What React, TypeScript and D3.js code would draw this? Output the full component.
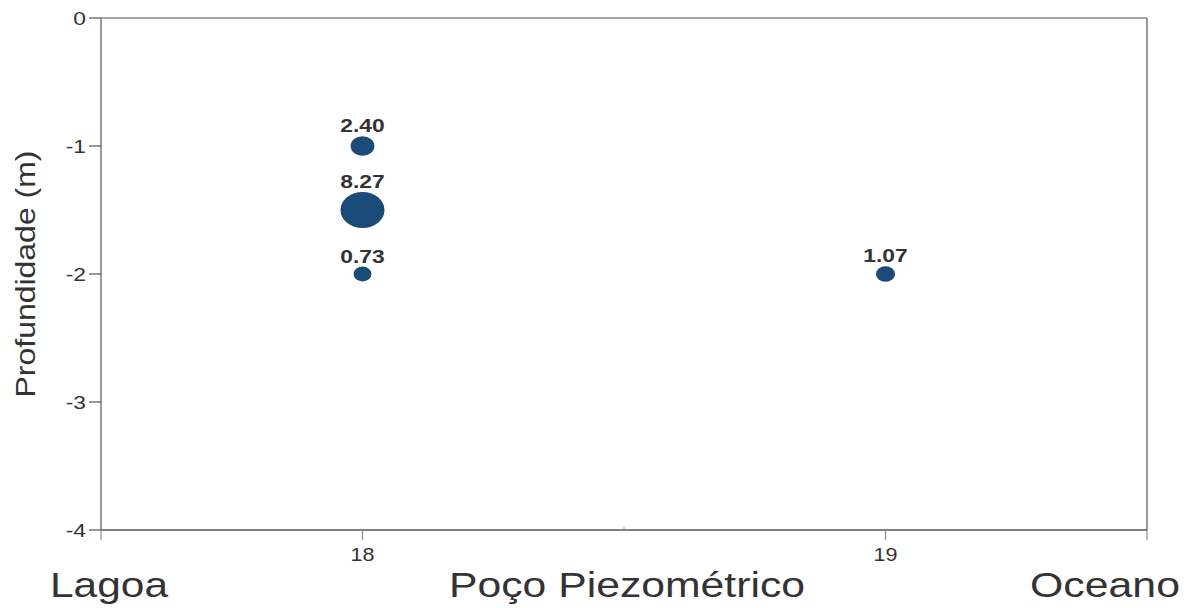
import React from "react";
import * as d3 from "d3";

const wells = [18, 18, 18, 19];
const depths = [-1, -1.5, -2, -2];
const values = [2.40, 8.27, 0.73, 1.07];
const valueLabels = ["2.40", "8.27", "0.73", "1.07"];
const yTicks = [0, -1, -2, -3, -4];
const xTicks = [18, 19];
const bottomLabels = ["Lagoa", "Poço Piezométrico", "Oceano"];

const W = 1187, H = 608;
const left = 101, right = 1147, top = 18, bottom = 530;
const SX = 1.2;

function SText({ x, y, anchor, size, weight, children }: any) {
  return (
    <g transform={`translate(${x},${y}) scale(${SX},1)`}>
      <text textAnchor={anchor} fontSize={size} fontWeight={weight || "normal"} fill="#333">{children}</text>
    </g>
  );
}

export default function App() {
  const x = d3.scaleLinear().domain([17.5, 19.5]).range([left, right]);
  const y = d3.scaleLinear().domain([0, -4]).range([top, bottom]);
  const rx = d3.scaleLinear().domain([0.73, 8.27]).range([9, 22]);
  const ryRatio = 0.82;
  const font = "'Liberation Sans', Arial, Helvetica, sans-serif";
  return (
    <svg width={W} height={H} style={{ position: "absolute", left: 0, top: 0, background: "#fff" }} fontFamily={font}>
      <line x1={left} x2={right} y1={top} y2={top} stroke="#8a8a8a" strokeWidth={1.5} />
      <line x1={right} x2={right} y1={top} y2={bottom} stroke="#777" strokeWidth={1.5} />
      <line x1={left} x2={left} y1={top} y2={bottom} stroke="#777" strokeWidth={1.5} />
      <line x1={left} x2={right} y1={bottom} y2={bottom} stroke="#555" strokeWidth={1.5} />
      {yTicks.map((t) => (
        <g key={t}>
          <line x1={left - 12} x2={left} y1={y(t)} y2={y(t)} stroke="#555" strokeWidth={1.2} />
          <SText x={left - 15} y={y(t) + 7} anchor="end" size={19}>{String(t)}</SText>
        </g>
      ))}
      {[17.5, 19.5].map((t) => (
        <line key={t} x1={x(t)} x2={x(t)} y1={bottom} y2={bottom + 10} stroke="#888" strokeWidth={1.2} />
      ))}
      <line x1={x(18.5)} x2={x(18.5)} y1={bottom - 3} y2={bottom} stroke="#999" strokeWidth={1} />
      {xTicks.map((t) => (
        <g key={t}>
          <line x1={x(t)} x2={x(t)} y1={bottom} y2={bottom + 10} stroke="#888" strokeWidth={1.2} />
          <SText x={x(t)} y={561} anchor="middle" size={18}>{t}</SText>
        </g>
      ))}
      <text transform="translate(35,274) rotate(-90)" textAnchor="middle" fontSize={28} fill="#333" textLength={247} lengthAdjust="spacingAndGlyphs">Profundidade (m)</text>
      <text x={50} y={597} fontSize={35} fill="#333" textLength={118} lengthAdjust="spacingAndGlyphs">{bottomLabels[0]}</text>
      <text x={449} y={597} fontSize={35} fill="#333" textLength={356} lengthAdjust="spacingAndGlyphs">{bottomLabels[1]}</text>
      <text x={1030} y={597} fontSize={35} fill="#333" textLength={150} lengthAdjust="spacingAndGlyphs">{bottomLabels[2]}</text>
      {values.map((v, i) => {
        const cx = x(wells[i]);
        const cy = y(depths[i]);
        const r = rx(v);
        const ry = r * ryRatio;
        return (
          <g key={i}>
            <ellipse cx={cx} cy={cy} rx={r} ry={ry} fill="#1b4b79" />
            <SText x={cx} y={cy - ry - 4} anchor="middle" size={19} weight="bold">{valueLabels[i]}</SText>
          </g>
        );
      })}
    </svg>
  );
}
